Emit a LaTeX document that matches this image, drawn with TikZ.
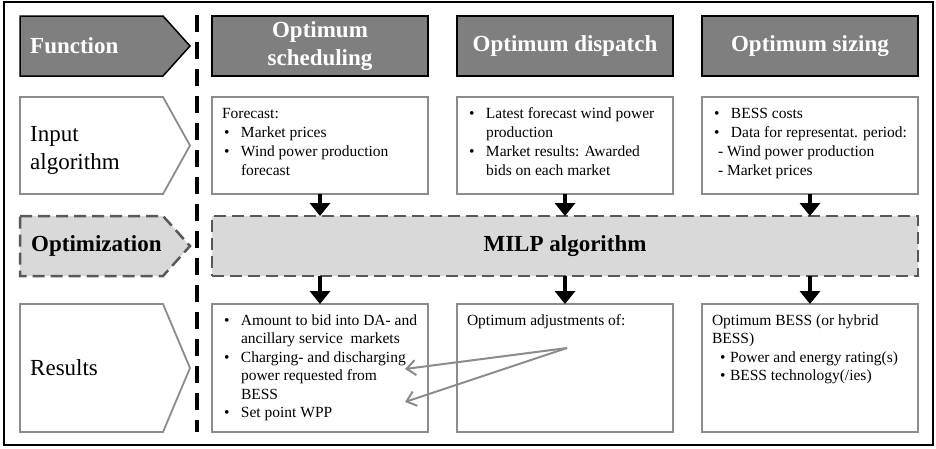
\documentclass[tikz,border=0pt]{standalone}
\usepackage{fontspec}
\setmainfont{Liberation Serif}
\usetikzlibrary{positioning,arrows.meta}
\definecolor{hdgray}{HTML}{7F7F7F}
\definecolor{boxgray}{HTML}{8C8C8C}
\definecolor{optfill}{HTML}{D9D9D9}
\definecolor{optline}{HTML}{595959}
\newcommand{\bul}{\makebox[19pt][l]{\hspace{2pt}\textbullet}}
\newcommand{\bulb}{\makebox[18pt][l]{\hspace{8pt}\textbullet}}
\newcommand{\ind}{\hspace*{19pt}}
\newcommand{\boxtxt}[2]{\makebox[216pt][l]{\parbox[c][#1][t]{226pt}{%
  \leftskip=10pt\rightskip=0pt plus 1fil\rule{0pt}{21pt}#2}}}
\tikzset{%
  head box/.style={
    rectangle,
    draw=black,
    fill=hdgray,
    line width=1.5pt,
    minimum width=216pt,
    minimum height=60pt,
    inner sep=0pt,
    outer sep=0pt,
    text=white,
    align=center,
    font=\bfseries\fontsize{23}{27}\selectfont
  },
  input box/.style={
    rectangle,
    draw=boxgray,
    fill=white,
    line width=1.8pt,
    inner sep=0pt,
    outer sep=0pt,
    font=\fontsize{15.5}{19}\selectfont
  },
  result box/.style={
    input box,
    font=\fontsize{15.5}{18.5}\selectfont
  },
  milp box/.style={
    rectangle,
    draw=optline,
    fill=optfill,
    line width=2.5pt,
    dash pattern=on 12pt off 6pt,
    minimum width=706pt,
    minimum height=60pt,
    inner sep=0pt,
    outer sep=0pt,
    font=\bfseries\fontsize{23}{27}\selectfont
  },
  side label/.style={
    anchor=west,
    inner sep=0pt,
    align=left,
    font=\fontsize{23}{28}\selectfont
  },
}

\begin{document}
\begin{tikzpicture}[x=1pt,y=-1pt]
  \tikzstyle{chev}=[line width=1.8pt,line join=miter]
  \tikzstyle{barrow}=[line width=4pt,-{Triangle[width=20pt,length=13pt]}]
  \tikzstyle{garrow}=[draw=boxgray,line width=2pt,-{Straight Barb[width=15pt,length=9pt]}]

  \useasboundingbox (0,0) rectangle (936,448);
  \draw[line width=2pt] (4,2) rectangle (933,445);

  \draw[chev,draw=black,fill=hdgray,line width=1.5pt] (20,16) -- (163,16) -- (190,46) -- (163,76) -- (20,76) -- cycle;
  \draw[chev,draw=boxgray,fill=white] (20,97) -- (163,97) -- (190,145.5) -- (163,194) -- (20,194) -- cycle;
  \draw[chev,draw=optline,fill=optfill,line width=2.5pt,dash pattern=on 12pt off 6pt] (20,216) -- (163,216) -- (190,246) -- (163,276) -- (20,276) -- cycle;
  \draw[chev,draw=boxgray,fill=white] (20,304) -- (163,304) -- (190,368) -- (163,432) -- (20,432) -- cycle;

  \node[side label,text=white,font=\bfseries\fontsize{23}{28}\selectfont] (fun) at (30,46) {Function};
  \node[side label] (inp) at (30,150) {Input\\algorithm};
  \node[side label,font=\bfseries\fontsize{23}{28}\selectfont] (opt) at (31,246) {Optimization};
  \node[side label] (res) at (30,368) {Results};

  \draw[line width=3.5pt,dash pattern=on 17pt off 10pt] (197,15) -- (197,432);

  \node[head box,font=\bfseries\fontsize{23}{28}\selectfont] (hsch) at (320,46) {Optimum\\scheduling};
  \node[head box,right=29pt of hsch] (hdis) {Optimum dispatch};
  \node[head box,right=29pt of hdis] (hsiz) {Optimum sizing};

  \node[input box,below=21pt of hsch] (isch) {\boxtxt{97pt}{Forecast:\\
    \bul Market prices\\
    \bul Wind power production\\
    \ind forecast}};
  \node[input box,below=21pt of hdis] (idis) {\boxtxt{97pt}{\bul Latest forecast wind power\\
    \ind production\\
    \bul Market results: Awarded\\
    \ind bids on each market}};
  \node[input box,below=21pt of hsiz] (isiz) {\boxtxt{97pt}{\bul BESS costs\\
    \bul Data for representat. period:\\
    \hspace*{6pt}- Wind power production\\
    \hspace*{6pt}- Market prices}};

  \node[milp box,below=22pt of idis] (milp) {MILP algorithm};

  \node[result box,below=110pt of isch] (rsch) {\boxtxt{128pt}{\bul Amount to bid into DA- and\\
    \ind ancillary service\ \ markets\\
    \bul Charging- and discharging\\
    \ind power requested from\\
    \ind BESS\\
    \bul Set point WPP}};
  \node[result box,right=29pt of rsch] (rdis) {\boxtxt{128pt}{Optimum adjustments of:}};
  \node[result box,right=29pt of rdis] (rsiz) {\boxtxt{128pt}{Optimum BESS (or hybrid\\
    BESS)\\
    \bulb Power and energy rating(s)\\
    \bulb BESS technology(/ies)}};

  \draw[barrow] (isch) -- (isch |- milp.north);
  \draw[barrow] (idis) -- (idis |- milp.north);
  \draw[barrow] (isiz) -- (isiz |- milp.north);
  \draw[barrow] (milp.south -| rsch) -- (rsch);
  \draw[barrow] (milp.south -| rdis) -- (rdis);
  \draw[barrow] (milp.south -| rsiz) -- (rsiz);

  \coordinate (adj) at (567,348);
  \coordinate (chg) at (405,369);
  \coordinate (wpp) at (405,402);
  \draw[garrow] (adj) -- (chg);
  \draw[garrow] (adj) -- (wpp);
\end{tikzpicture}
\end{document}
